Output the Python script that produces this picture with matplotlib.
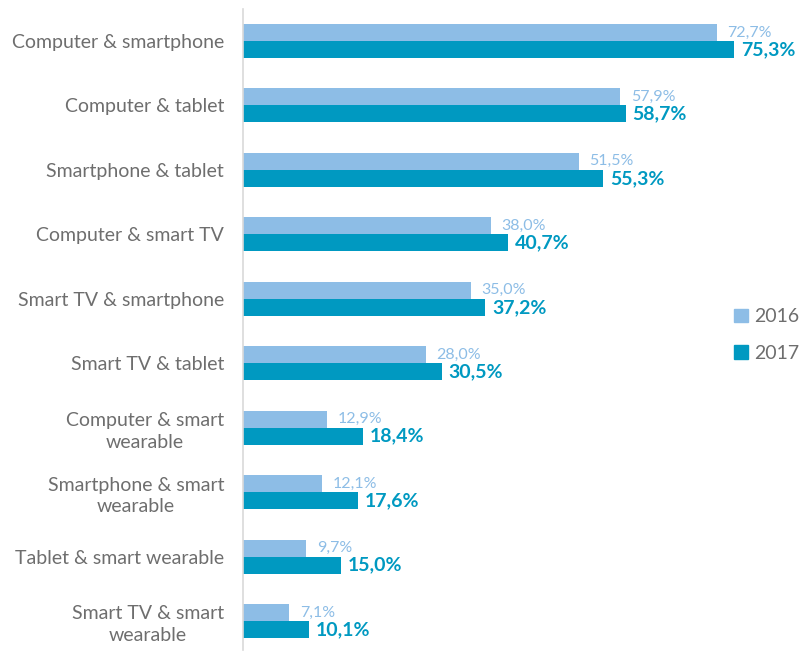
import numpy as np
import matplotlib.pyplot as plt
from matplotlib.patches import Patch

categories = ['Computer & smartphone', 'Computer & tablet', 'Smartphone & tablet',
              'Computer & smart TV', 'Smart TV & smartphone', 'Smart TV & tablet',
              'Computer & smart\nwearable', 'Smartphone & smart\nwearable',
              'Tablet & smart wearable', 'Smart TV & smart\nwearable']
v2016 = [72.7, 57.9, 51.5, 38.0, 35.0, 28.0, 12.9, 12.1, 9.7, 7.1]
v2017 = [75.3, 58.7, 55.3, 40.7, 37.2, 30.5, 18.4, 17.6, 15.0, 10.1]

c16 = '#8DBDE6'
c17 = '#0099C1'
gray = '#6E6E6E'

plt.rcParams['font.family'] = ['Lato', 'DejaVu Sans']

fig = plt.figure(figsize=(7.99, 6.51), dpi=100)
ax = fig.add_axes([243 / 799, 0, (799 - 243) / 799, 1])

y = np.arange(len(categories))
h = 0.264
ax.barh(y - h / 2, v2016, height=h, color=c16)
ax.barh(y + h / 2, v2017, height=h, color=c17)

for i in range(len(categories)):
    ax.annotate(f'{v2016[i]:.1f}%'.replace('.', ','), (v2016[i], y[i] - h / 2),
                xytext=(7.5, 0), textcoords='offset points', va='center', ha='left',
                fontsize=11.5, color=c16)
    ax.annotate(f'{v2017[i]:.1f}%'.replace('.', ','), (v2017[i], y[i] + h / 2),
                xytext=(5, 0), textcoords='offset points', va='center', ha='left',
                fontsize=14, fontweight='bold', color=c17)

ax.set_xlim(0, 85.3)
ax.set_ylim(9.466, -0.636)
ax.set_yticks(y)
ax.set_yticklabels(categories, fontsize=14, color=gray, linespacing=1.35)
ax.tick_params(axis='y', length=0, pad=13.5)
for lbl in ax.get_yticklabels():
    lbl.set_multialignment('center')
ax.set_xticks([])
for s in ['top', 'right', 'bottom']:
    ax.spines[s].set_visible(False)
ax.spines['left'].set_color('#D9D9D9')
ax.spines['left'].set_linewidth(1.2)
ax.spines['left'].set_bounds(-0.5, 9.45)

handles = [Patch(color=c16, label='2016'), Patch(color=c17, label='2017')]
fig.legend(handles=handles, loc='center left', bbox_to_anchor=(734 / 799, 1 - 335 / 651),
           frameon=False, fontsize=14, labelcolor=gray, handlelength=0.7, handleheight=0.7,
           handletextpad=0.35, labelspacing=1.0, borderpad=0, borderaxespad=0)

fig.savefig('out.png', dpi=100)
